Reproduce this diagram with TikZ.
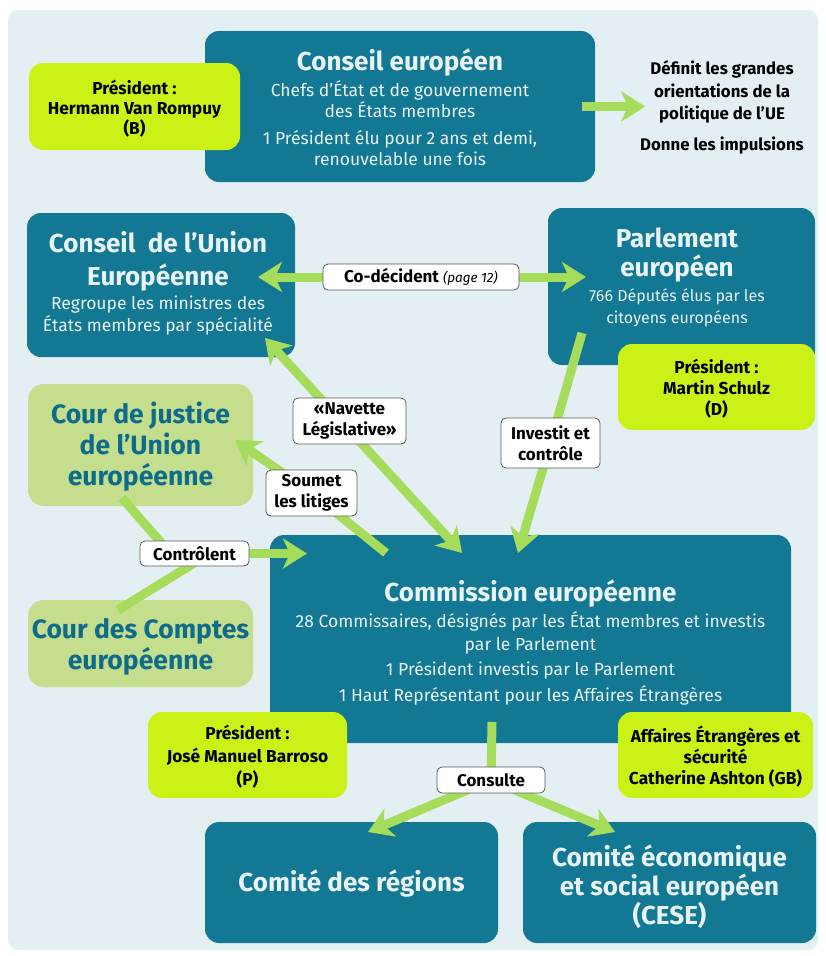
\documentclass[tikz,border=0pt]{standalone}
\usepackage{fontspec}
\setmainfont{Fira Sans}
\usetikzlibrary{arrows.meta}

\definecolor{euPale}{RGB}{228,239,243}
\definecolor{euTeal}{RGB}{18,120,147}
\definecolor{euLime}{RGB}{202,242,22}
\definecolor{euSage}{RGB}{196,222,142}
\definecolor{euArrow}{RGB}{166,220,92}
\definecolor{euLight}{RGB}{232,244,247}
\definecolor{euInk}{RGB}{14,108,138}

\pgfdeclarelayer{tags}
\pgfsetlayers{main,tags}

\newcommand{\ttlfont}{\fontsize{26}{31}\selectfont\bfseries}

\tikzset{
  tealbox/.style={fill=euTeal, rounded corners=14pt, inner sep=0pt},
  limebox/.style={fill=euLime, rounded corners=14pt, inner sep=0pt},
  sagebox/.style={fill=euSage, rounded corners=16pt, inner sep=0pt},
  tealtext/.style={text=euLight, align=center, inner sep=0pt,
                   font=\fontsize{17.5}{22}\selectfont},
  limetext/.style={text=black, align=center, inner sep=0pt,
                   font=\fontsize{17.3}{22}\selectfont\bfseries},
  sagetext/.style={text=euInk, align=center, inner sep=0pt,
                   font=\fontsize{26.5}{31}\selectfont\bfseries},
  tag/.style={fill=white, draw=black!65, line width=0.8pt, rounded corners=5pt,
              inner sep=0pt, align=center, text=black,
              font=\fontsize{17}{21}\selectfont\bfseries},
  flow/.style={draw=euArrow, line width=9pt,
               -{Stealth[length=24pt,width=30pt,inset=7pt]}},
  biflow/.style={draw=euArrow, line width=9pt,
               {Stealth[length=24pt,width=30pt,inset=7pt]}-{Stealth[length=24pt,width=30pt,inset=7pt]}},
  link/.style={draw=euArrow, line width=9pt}
}

\begin{document}
\begin{tikzpicture}[x=1pt,y=-1pt]
  \useasboundingbox (0,0) rectangle (826,956);
  \fill[white] (0,0) rectangle (826,956);
  \fill[euPale, rounded corners=10pt] (8,10) rectangle (818,950);

  % ---- institutions ----
  \node[tealbox, minimum width=390pt, minimum height=151pt] (ce) at (400,106.5) {};
  \node[tealtext] (ceT) at (400,107) {{\ttlfont Conseil européen}\\[4pt]
    Chefs d’État et de gouvernement\\[-1pt] des États membres\\[5pt]
    1 Président élu pour 2 ans et demi,\\[-1pt] renouvelable une fois};

  \node[limebox, minimum width=211pt, minimum height=87pt] (vr) at (134.5,106.5) {};
  \node[limetext] (vrT) at (134.5,109) {Président :\\[-2pt] Hermann Van Rompuy\\[-2pt] (B)};

  \node[text=black, align=center, inner sep=0pt,
        font=\fontsize{16.8}{22.5}\selectfont\bfseries] (orient) at (722,107.5)
    {Définit les grandes\\ orientations de la\\ politique de l’UE\\[8pt] Donne les impulsions};

  \node[tealbox, minimum width=268pt, minimum height=144pt] (cue) at (161,285) {};
  \node[tealtext] (cueT) at (158,283) {{\ttlfont Conseil\ \ de l’Union}\\[10pt]
    {\ttlfont Européenne}\\[2pt] Regroupe les ministres des\\ États membres par spécialité};

  \node[tealbox, minimum width=267pt, minimum height=157pt] (parl) at (681.5,286.5) {};
  \node[tealtext, font=\fontsize{16}{22}\selectfont] (parlT) at (677,277) {{\ttlfont Parlement}\\[6pt]
    {\ttlfont européen}\\[3pt] 766 Députés élus par les\\ citoyens européens};

  \node[limebox, minimum width=197pt, minimum height=86pt] (sch) at (716.5,387) {};
  \node[limetext] (schT) at (716.5,388.5) {Président :\\[-1pt] Martin Schulz\\[-1pt] (D)};

  \node[sagebox, minimum width=225pt, minimum height=122pt] (cj) at (140.5,445) {};
  \node[sagetext] (cjT) at (140.5,447) {Cour de justice\\ de l’Union\\ européenne};

  \node[sagebox, minimum width=225pt, minimum height=87pt] (cc) at (140.5,643.5) {};
  \node[sagetext] (ccT) at (140.5,647) {Cour des Comptes\\ européenne};

  \node[tealbox, minimum width=521pt, minimum height=208pt] (comm) at (530.5,639) {};
  \node[tealtext] (commT) at (530.5,642) {{\ttlfont Commission européenne}\\[4pt]
    28 Commissaires, désignés par les État membres et investis\\[1pt]
    par le Parlement\\[3pt] 1 Président investis par le Parlement\\[4pt]
    1 Haut Représentant pour les Affaires Étrangères};

  \node[limebox, minimum width=199pt, minimum height=86pt] (bar) at (247.5,755) {};
  \node[limetext] (barT) at (247.5,757) {Président :\\[1pt] José Manuel Barroso\\[1pt] (P)};

  \node[limebox, minimum width=195pt, minimum height=86pt] (ash) at (715.5,755) {};
  \node[limetext] (ashT) at (715.5,757) {Affaires Étrangères et\\[-1pt] sécurité\\[-1pt] Catherine Ashton (GB)};

  \node[tealbox, minimum width=293pt, minimum height=121pt] (cdr) at (351.5,882.5) {};
  \node[tealtext, font=\ttlfont] (cdrT) at (351.5,884) {Comité des régions};

  \node[tealbox, minimum width=293pt, minimum height=121pt] (cese) at (669.5,882.5) {};
  \node[tealtext, font=\fontsize{26}{29}\selectfont\bfseries] (ceseT) at (669.5,887)
    {Comité économique\\ et social européen\\ (CESE)};

  % ---- relation tags (kept above the arrows) ----
  \begin{pgfonlayer}{tags}
    \node[tag, minimum width=196pt, minimum height=26pt] (cdec) at (421,277)
      {Co-décident {\mdseries\itshape\fontsize{13.5}{16}\selectfont (page 12)}};
    \node[tag, minimum width=113pt, minimum height=46pt] (nav) at (349.5,421)
      {«Navette\\ Législative»};
    \node[tag, minimum width=99pt, minimum height=50pt] (inv) at (550.5,443)
      {Investit et\\ contrôle};
    \node[tag, minimum width=91pt, minimum height=46pt] (soum) at (311.5,493)
      {Soumet\\ les litiges};
    \node[tag, minimum width=109pt, minimum height=25pt] (ctrl) at (194.5,553.5)
      {Contrôlent};
    \node[tag, minimum width=108pt, minimum height=26pt] (cons) at (491,780)
      {Consulte};
  \end{pgfonlayer}

  % ---- arrow ends ----
  \coordinate (cdL)   at (258,277);
  \coordinate (cdR)   at (586,277);
  \coordinate (navA)  at (265,338);
  \coordinate (navB)  at (462,553);
  \coordinate (invA)  at (582,333);
  \coordinate (invB)  at (518,553);
  \coordinate (soumA) at (386,553);
  \coordinate (soumB) at (235,440);
  \coordinate (cjA)   at (122,498);
  \coordinate (ccA)   at (118,610);
  \coordinate (ctrlB) at (307,553.5);
  \coordinate (consA) at (492,722);
  \coordinate (consL) at (368,832);
  \coordinate (consR) at (615,832);

  % ---- connectors ----
  \draw[flow] ([xshift=-13pt]ce.east) -- ([xshift=50pt]ce.east);
  \draw[flow] (cdec.center) -- (cdL);
  \draw[flow] (cdec.center) -- (cdR);
  \draw[biflow] (navA) -- (navB);
  \draw[link] (invA) -- (inv.center);
  \draw[flow] (inv.center) -- (invB);
  \draw[link] (soumA) -- (soum.center);
  \draw[flow] (soum.center) -- (soumB);
  \draw[link] (cjA) -- ([xshift=-24pt]ctrl.center);
  \draw[link] (ccA) -- ([xshift=15pt]ctrl.center);
  \draw[flow] (ctrl.center) -- (ctrlB);
  \draw[link] (consA) -- (cons.center);
  \draw[flow] (cons.center) -- (consL);
  \draw[flow] (cons.center) -- (consR);
\end{tikzpicture}
\end{document}
